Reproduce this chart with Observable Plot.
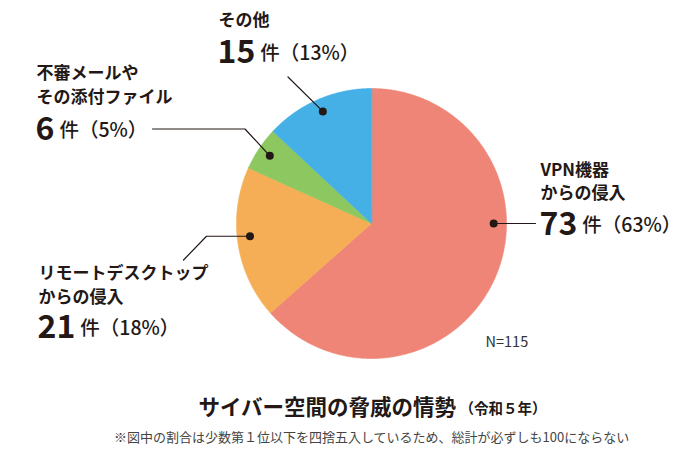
<!DOCTYPE html>
<html>
<head>
<meta charset="utf-8">
<script src="https://cdn.jsdelivr.net/npm/d3@7"></script>
<script src="https://cdn.jsdelivr.net/npm/@observablehq/plot@0.6"></script>
<style>
  body { margin: 0; background: #fff; }
</style>
</head>
<body>
<div id="chart"></div>
<script>
// ---------- data ----------
const categories = ["VPN機器からの侵入", "リモートデスクトップからの侵入", "不審メールやその添付ファイル", "その他"];
const counts = [73, 21, 6, 15];
const percents = [63, 18, 5, 13];
const total = 115;
const labelLines = [["VPN機器", "からの侵入"], ["リモートデスクトップ", "からの侵入"], ["不審メールや", "その添付ファイル"], ["その他"]];
const colors = ["#ef8576", "#f5ae56", "#8dc760", "#45b0e5"];
const titleText = "サイバー空間の脅威の情勢";
const titleSub = "（令和５年）";
const noteText = "※図中の割合は少数第１位以下を四捨五入しているため、総計が必ずしも100にならない";
const nText = "N=" + total;

// ---------- layout ----------
const W = 700, H = 474;
const CX = 371, CY = 223, R = 135;
const INK = "#231815";
const FONT = "'Noto Sans CJK JP', 'Noto Sans', sans-serif";
const DOT_RADIUS = 0.905;           // as fraction of pie radius
// per-slice label layout (pixels); dotAngle in degrees clockwise from top (null => mid-angle)
const layout = [
  {dotAngle: 90,   elbows: [[535, null]],                  tx: 540, ty: 170,   numY: 224},
  {dotAngle: 264,  elbows: [[206, null], [183, 259.5]],    tx: 38,  ty: 273.5, numY: 327.5},
  {dotAngle: null, elbows: [[244.5, 128.5], [152, 128.5]], tx: 36,  ty: 73.5,  numY: 129},
  {dotAngle: null, elbows: [[287.5, 76.5]],                tx: 218, ty: 20.5,  numY: 52}
];
const LINE_GAP = 23.5;
const LABEL_SIZE = 17, NUM_SIZE = 32, UNIT_SIZE = 19.5;

// pixel -> unit coordinates of the x/y scales
const ux = px => (px - CX) / R;
const uy = py => (CY - py) / R;

// ---------- geometry from data ----------
const arcs = d3.pie().sort(null).value(d => d)(counts);
const slices = arcs.map((a, i) => {
  const pts = [{x: 0, y: 0}];
  const n = Math.max(8, Math.ceil((a.endAngle - a.startAngle) / (Math.PI / 360)));
  for (let k = 0; k <= n; k++) {
    const t = a.startAngle + (a.endAngle - a.startAngle) * k / n;
    pts.push({x: Math.sin(t), y: Math.cos(t)});
  }
  return {name: categories[i], color: colors[i], pts};
});

const dots = arcs.map((a, i) => {
  const ang = layout[i].dotAngle != null ? layout[i].dotAngle * Math.PI / 180 : (a.startAngle + a.endAngle) / 2;
  return {name: categories[i], x: DOT_RADIUS * Math.sin(ang), y: DOT_RADIUS * Math.cos(ang)};
});

const leaders = [];
dots.forEach((d, i) => {
  leaders.push({id: i, x: d.x, y: d.y});
  for (const [ex, ey] of layout[i].elbows) {
    leaders.push({id: i, x: ux(ex), y: ey == null ? d.y : uy(ey)});
  }
});

// ---------- text helpers ----------
const ctx = document.createElement("canvas").getContext("2d");
function measure(str, size, weight) {
  ctx.font = `${weight} ${size}px ${FONT}`;
  return ctx.measureText(str).width;
}
function label(str, x, y, {size = LABEL_SIZE, weight = 700, fill = INK, anchor = "start"} = {}) {
  return Plot.text([str], {
    text: d => d, frameAnchor: "top-left", dx: x, dy: y,
    lineAnchor: "middle", textAnchor: anchor,
    fontSize: size, fontWeight: weight, fill
  });
}

const textMarks = [];
categories.forEach((c, i) => {
  const L = layout[i];
  labelLines[i].forEach((line, j) => textMarks.push(label(line, L.tx, L.ty + j * LINE_GAP)));
  const num = String(counts[i]);
  textMarks.push(label(num, L.tx - 1, L.numY, {size: NUM_SIZE, weight: 700}));
  const nx = L.tx - 1 + measure(num, NUM_SIZE, 700) + 5;
  textMarks.push(label(`件（${percents[i]}%）`, nx, L.numY + 1, {size: UNIT_SIZE, weight: 500}));
});

textMarks.push(label(nText, 485, 342, {size: 14.5, weight: 400, fill: "#333"}));
textMarks.push(label(titleText, 198, 408, {size: 21.5, weight: 700}));
textMarks.push(label(titleSub, 459, 409, {size: 14.5, weight: 700}));
textMarks.push(label(noteText, 371, 437, {size: 13, weight: 400, fill: "#444", anchor: "middle"}));

// ---------- plot ----------
const chart = Plot.plot({
  width: W, height: H, margin: 0,
  x: {domain: [-1, 1], range: [CX - R, CX + R], axis: null},
  y: {domain: [-1, 1], range: [CY + R, CY - R], axis: null},
  style: {fontFamily: FONT, background: "#fff", color: INK},
  marks: [
    ...slices.map(s => Plot.line(s.pts, {x: "x", y: "y", fill: s.color, stroke: s.color, strokeWidth: 0.6, curve: "linear-closed"})),
    Plot.line(leaders, {x: "x", y: "y", z: "id", stroke: INK, strokeWidth: 1.2}),
    Plot.dot(dots, {x: "x", y: "y", r: 4, fill: INK, stroke: null}),
    ...textMarks
  ]
});
document.getElementById("chart").appendChild(chart);
</script>
</body>
</html>
